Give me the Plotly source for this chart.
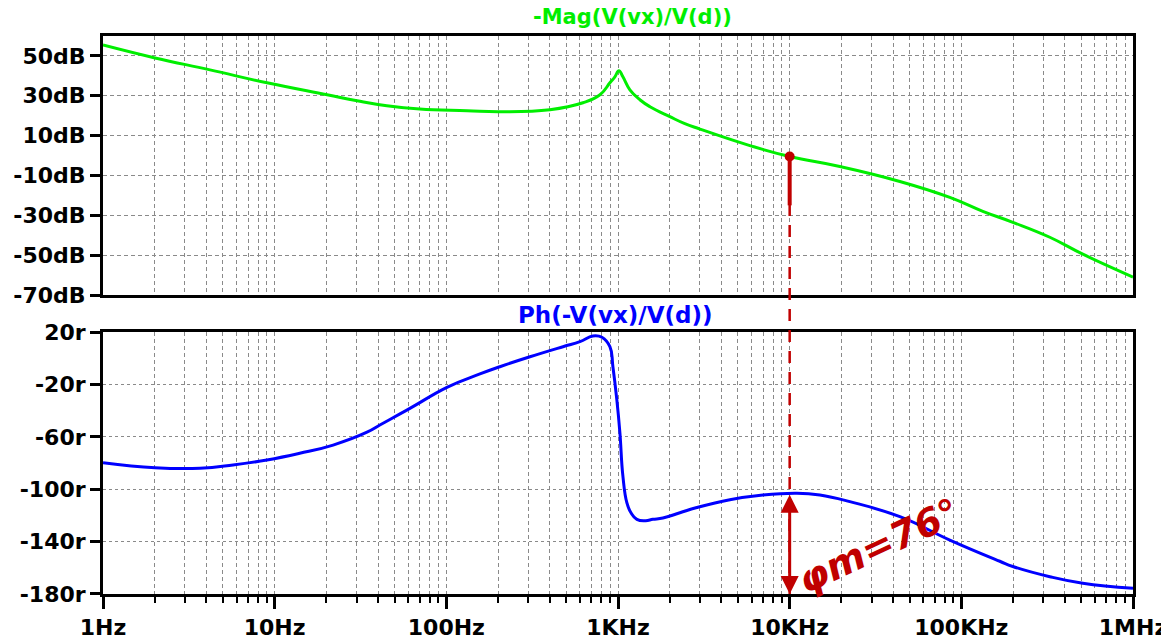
import numpy as np
import plotly.graph_objects as go

# ---------------- data ----------------
mag_freq = [1, 2.01, 4.2, 9.02, 20.2, 30.2, 45, 70, 132, 205, 401, 625, 785, 897, 959,
            1012, 1068, 1173, 1341, 1535, 2005, 2450, 3000, 5865, 10020, 19600, 43850,
            85700, 133400, 199500, 327600, 510000, 1e6]
mag_db = [55.5, 49, 43, 36.5, 30.5, 27.5, 25, 23.3, 22.5, 22, 23, 26.5, 30.5, 36.5, 39.5,
          42.6, 39.5, 33, 28, 24.5, 19.5, 16, 13.3, 5, -0.5, -5.5, -13,
          -21, -28, -33.5, -41, -49.5, -61]

ph_freq = [1, 2.01, 3.67, 5.72, 9.02, 14.0, 21.9, 34.5, 41.0, 53.7, 63.9, 100.8, 157,
           205, 307, 478, 600, 714, 806, 897, 934, 985, 1026, 1068, 1127, 1190, 1288, 1450,
           1597, 1826, 2294, 2880, 4486, 6982, 11020, 15000, 22420, 43850, 85700,
           167500, 199500, 327600, 510000, 1e6]
ph_deg = [-79.8, -83.6, -84, -81.5, -77.7, -72.6, -66.3, -56.5, -51, -42.5, -37,
          -22.2, -12, -6.5, 1.1, 8.8, 12.6, 17, 16, 8.8, -6.5, -32, -57, -90, -110.5,
          -118, -123, -124, -123, -122, -118, -114, -108, -104.4, -103, -104.4, -109.5,
          -121, -138.8, -155, -159, -166.8, -171.8, -175.7]

x_tickvals = [1, 10, 100, 1e3, 1e4, 1e5, 1e6]
x_ticktext = ["1Hz", "10Hz", "100Hz", "1KHz", "10KHz", "100KHz", "1MHz"]
mag_tickvals = [-70, -50, -30, -10, 10, 30, 50]
mag_ticktext = ["-70dB", "-50dB", "-30dB", "-10dB", "10dB", "30dB", "50dB"]
ph_tickvals = [-180, -140, -100, -60, -20, 20]
ph_ticktext = ["-180r", "-140r", "-100r", "-60r", "-20r", "20r"]

mag_title = "-Mag(V(vx)/V(d))"
ph_title = "Ph(-V(vx)/V(d))"

# crossover annotation
fc = 1e4
mag_at_fc = -0.5
ph_at_fc = -103
pm_text = "φm=76°"

# ---------------- style ----------------
GREEN = "#00ee00"
BLUE = "#0000ff"
RED = "#c00000"
GRID = "#8a8a8a"
FONT = "DejaVu Sans"

MAG_RANGE = [-70, 60]
PH_RANGE = [-180, 20]
TOP_DOM = [0.5358, 1.0]
BOT_DOM = [0.0, 0.4695]

fig = go.Figure()
fig.add_trace(go.Scatter(x=mag_freq, y=mag_db, mode="lines",
                         line=dict(color=GREEN, width=3, shape="spline", smoothing=1.3),
                         xaxis="x", yaxis="y", showlegend=False, hoverinfo="skip"))
fig.add_trace(go.Scatter(x=ph_freq, y=ph_deg, mode="lines",
                         line=dict(color=BLUE, width=3, shape="spline", smoothing=1.3),
                         xaxis="x2", yaxis="y2", showlegend=False, hoverinfo="skip"))

# solid short stroke under the dot
fig.add_trace(go.Scatter(x=[fc, fc], y=[mag_at_fc, -25], mode="lines",
                         line=dict(color=RED, width=4),
                         xaxis="x", yaxis="y", showlegend=False, hoverinfo="skip"))
# red marker dot at crossover
fig.add_trace(go.Scatter(x=[fc], y=[mag_at_fc], mode="markers",
                         marker=dict(color=RED, size=10),
                         xaxis="x", yaxis="y", showlegend=False, hoverinfo="skip"))

tick_font = dict(family=FONT, size=22, color="black", weight="bold")

common_x = dict(type="log", range=[0, 6], showline=True, linewidth=3, linecolor="black",
                mirror=True, showgrid=True, gridcolor=GRID, gridwidth=1,
                griddash="4px,3px", dtick=1, zeroline=False, automargin=False)

fig.update_layout(
    width=1161, height=640,
    margin=dict(l=103, r=28, t=36, b=46, autoexpand=False),
    paper_bgcolor="white", plot_bgcolor="white",
    xaxis=dict(**common_x, domain=[0, 1], anchor="y", showticklabels=False, ticks="",
               minor=dict(dtick="D1", showgrid=True, gridcolor=GRID, gridwidth=1,
                          griddash="4px,3px", ticks="")),
    xaxis2=dict(**common_x, domain=[0, 1], anchor="y2",
                ticks="outside", ticklen=12, tickwidth=3, tickcolor="black",
                tickvals=x_tickvals, ticktext=x_ticktext, tickfont=tick_font,
                ticklabeloverflow="allow",
                minor=dict(dtick="D1", showgrid=True, gridcolor=GRID, gridwidth=1,
                           griddash="4px,3px", ticks="outside", ticklen=6,
                           tickwidth=2, tickcolor="black")),
    yaxis=dict(domain=TOP_DOM, anchor="x", range=MAG_RANGE, automargin=False,
               tickvals=mag_tickvals, ticktext=mag_ticktext, tickfont=tick_font,
               ticks="outside", ticklen=10, tickwidth=3, tickcolor="black",
               showline=True, linewidth=3, linecolor="black", mirror=True,
               showgrid=True, gridcolor=GRID, griddash="4px,3px", zeroline=False),
    yaxis2=dict(domain=BOT_DOM, anchor="x2", range=PH_RANGE, automargin=False,
                tickvals=ph_tickvals, ticktext=ph_ticktext, tickfont=tick_font,
                ticks="outside", ticklen=10, tickwidth=3, tickcolor="black",
                showline=True, linewidth=3, linecolor="black", mirror=True,
                showgrid=True, gridcolor=GRID, griddash="3px,3px", zeroline=False),
)

# dashed red vertical line from the crossover dot down to the bottom of the phase panel
dot_frac = TOP_DOM[0] + (mag_at_fc - MAG_RANGE[0]) / (MAG_RANGE[1] - MAG_RANGE[0]) * (TOP_DOM[1] - TOP_DOM[0])
fig.add_shape(type="line", xref="x", yref="paper", x0=fc, x1=fc,
              y0=BOT_DOM[0], y1=dot_frac, line=dict(color=RED, width=2.5, dash="12px,9px"))

# double-headed arrow phase margin
fig.add_annotation(xref="x2", yref="y2", x=np.log10(fc), y=PH_RANGE[0],
                   ax=np.log10(fc), ay=ph_at_fc, axref="x2", ayref="y2",
                   showarrow=True, arrowhead=2, arrowside="end+start",
                   arrowsize=1.2, arrowwidth=3, arrowcolor=RED, text="")
fig.add_annotation(xref="x2", yref="y2", x=np.log10(3.3e4), y=-143, text=pm_text,
                   showarrow=False, textangle=-25,
                   font=dict(family="DejaVu Sans", size=38, color=RED, style="italic",
                             weight="bold"))

# panel titles
fig.add_annotation(xref="paper", yref="paper", x=0.5136, y=1.0, yshift=19,
                   yanchor="middle", text=mag_title, showarrow=False,
                   font=dict(family=FONT, size=21, color=GREEN, weight="bold"))
fig.add_annotation(xref="paper", yref="paper", x=0.497, y=BOT_DOM[1], yshift=17,
                   yanchor="middle", text=ph_title, showarrow=False,
                   font=dict(family=FONT, size=23, color=BLUE, weight="bold"))

fig.write_html("out.html")
